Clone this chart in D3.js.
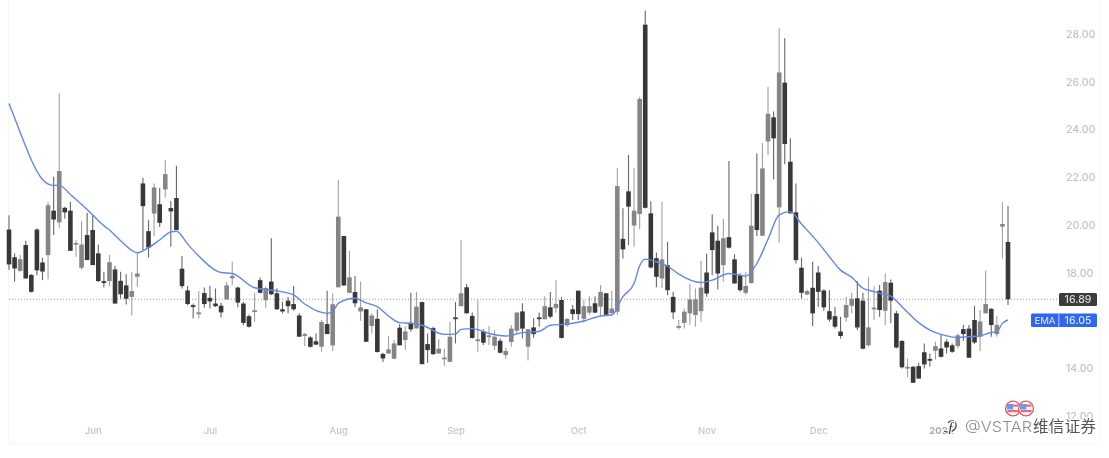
<!DOCTYPE html>
<html><head><meta charset="utf-8">
<script src="https://cdn.jsdelivr.net/npm/d3@7/dist/d3.min.js"></script>
<style>html,body{margin:0;padding:0;background:#fff;overflow:hidden}svg{display:block}</style>
</head><body><svg id="c" width="1109" height="458"></svg>
<script>
const high=[20.41,18.81,18.74,19.34,17.94,19.86,18.63,20.97,22.02,25.51,
20.76,20.97,19.37,20.16,20.51,20.41,19.18,18.04,18.74,18.28,
18.04,17.94,18.04,18.84,21.98,20.2,21.74,21.56,22.72,21.01,
22.48,18.7,17.44,16.71,17.24,17.38,17.44,17.34,16.74,17.61,
18.46,17.41,16.78,16.25,17.17,17.8,17.41,19.44,17.35,16.79,
16.99,17.44,16.3,15.49,15.35,15.46,16.02,17.25,17.14,21.88,
19.54,18.92,17.86,17.62,16.47,16.3,16.47,14.65,15.35,15.18,
15.85,15.77,17.16,17.2,16.79,15.46,15.74,15.21,14.83,15.95,
16.77,19.37,17.53,16.33,16.88,15.63,15.77,15.6,15.25,14.86,
15.81,16.37,16.72,15.63,16.09,16.33,17.02,17.19,17.69,16.99,
16.09,16.65,17.25,16.86,17.02,17.02,17.49,17.14,17.25,22.4,
20.7,22.93,22.4,25.37,28.98,21.0,18.85,20.97,19.3,17.2,
16.02,16.5,17.53,17.34,18.5,18.81,20.44,19.97,20.25,22.68,
18.78,17.97,18.04,21.3,23.0,23.42,25.79,24.75,28.24,27.82,
23.63,21.74,18.64,17.3,18.46,18.28,17.3,17.27,16.57,16.16,
17.0,17.16,17.65,17.16,17.81,17.42,17.49,17.97,17.72,16.41,
15.18,14.41,14.09,14.23,15.04,14.62,15.11,15.39,15.21,15.04,
15.46,15.81,15.81,16.62,16.44,18.09,16.51,16.19,20.95,20.8];
const low=[18.11,17.62,18.04,17.76,17.17,17.9,17.69,17.73,19.58,19.86,
20.27,18.91,18.67,18.14,18.53,18.32,17.62,17.38,17.44,16.71,
16.92,16.67,16.21,17.41,18.95,18.64,19.53,19.92,21.15,19.09,
19.79,17.34,16.64,16.08,16.08,16.53,16.5,16.57,16.13,16.88,
17.48,16.55,15.8,15.71,15.94,17.13,16.53,17.06,16.44,16.3,
16.3,16.41,15.32,14.93,14.87,14.97,14.69,15.43,14.72,17.39,
17.44,17.14,16.55,15.99,15.11,15.46,14.66,14.26,14.6,14.38,
14.96,14.76,15.54,15.66,14.17,14.23,14.55,14.6,14.09,14.26,
15.04,16.6,16.3,15.25,14.69,14.97,14.97,14.76,14.62,14.4,
14.9,15.46,15.25,14.32,15.28,15.74,16.05,16.09,16.33,15.25,
15.74,16.02,16.02,15.91,16.24,16.3,16.16,16.21,16.3,16.23,
18.6,19.16,19.09,19.82,20.69,18.18,17.39,17.36,17.06,16.06,
15.62,15.67,15.81,15.74,15.95,17.0,17.9,17.3,17.62,19.02,
17.55,17.2,17.06,17.55,19.54,19.54,22.93,21.92,19.26,22.54,
20.46,18.39,16.92,17.06,15.77,16.57,16.41,15.95,15.67,15.25,
15.95,16.3,15.6,14.8,14.9,16.02,16.16,15.81,15.88,14.83,
13.99,13.62,13.39,13.55,13.99,14.06,14.37,14.45,14.62,14.65,
14.83,15.15,14.44,15.01,14.72,16.3,15.32,15.32,18.6,16.65];
const open=[19.81,18.65,18.08,19.16,17.91,19.81,18.43,18.74,20.6,20.11,
20.72,20.6,19.18,18.21,19.58,19.79,18.81,17.65,17.65,18.14,
17.66,17.47,16.99,17.83,21.74,19.74,20.48,20.87,21.49,20.71,
21.13,18.17,17.26,16.64,16.29,17.15,16.95,16.71,16.62,16.88,
17.77,17.38,16.71,16.18,16.36,17.69,16.85,17.63,17.14,16.47,
16.83,16.69,16.21,15.39,15.29,15.13,14.9,15.85,14.96,17.39,
19.54,17.16,17.19,16.38,16.47,15.77,16.07,14.6,14.62,14.4,
15.7,15.18,15.91,15.67,16.77,15.01,15.68,14.62,14.41,14.27,
16.13,16.6,17.39,16.19,15.15,15.54,15.35,14.94,15.15,14.55,
15.1,15.57,16.38,14.9,15.71,16.13,16.05,16.55,16.52,16.86,
15.8,16.47,17.25,16.07,16.33,16.72,16.58,17.14,16.3,16.37,
19.42,21.41,19.98,20.46,28.39,20.49,18.61,17.76,18.32,16.99,
15.71,15.9,16.3,16.23,16.39,18.01,19.69,19.34,18.32,19.49,
18.56,17.89,17.16,17.57,21.3,19.55,23.5,24.51,20.74,25.96,
22.65,20.53,18.21,17.09,17.37,18.01,17.26,16.39,16.18,15.54,
16.12,16.62,16.93,16.83,14.96,16.48,17.25,16.41,17.58,16.3,
15.14,13.99,14.06,14.09,14.67,14.39,14.73,14.83,15.11,14.96,
14.93,15.64,15.66,16.02,15.32,16.3,16.49,15.43,19.93,19.29];
const close=[18.35,18.18,18.57,17.76,17.2,18.1,18.05,20.83,20.23,22.26,
20.53,18.92,19.25,19.18,18.53,18.32,17.65,17.57,18.44,16.71,
17.1,16.91,17.23,17.97,20.79,19.05,21.57,20.09,22.13,20.57,
19.79,17.44,16.69,16.57,16.34,16.69,16.8,16.6,16.34,17.47,
17.86,16.75,15.9,15.74,16.43,17.16,17.36,17.1,16.47,16.38,
16.6,16.47,15.32,15.43,14.9,14.99,15.94,15.43,16.68,20.35,
17.47,17.81,16.72,16.55,15.11,16.21,14.68,14.41,14.79,15.04,
14.96,15.54,15.63,16.58,14.17,14.76,14.59,14.82,14.45,15.32,
16.07,17.14,16.3,15.27,15.21,15.07,15.38,15.32,14.65,14.72,
15.66,16.33,15.66,15.63,15.43,16.07,16.6,16.16,16.69,15.27,
16.07,16.27,16.27,16.6,16.6,16.33,17.2,16.24,16.5,21.63,
18.98,20.77,20.6,25.28,20.72,18.22,17.83,18.56,17.27,16.34,
15.77,16.37,16.88,16.88,17.38,17.13,18.95,17.97,19.45,19.05,
17.55,17.27,17.45,19.97,19.79,22.37,24.66,23.63,26.39,23.39,
20.49,18.53,17.16,17.23,16.3,17.2,16.55,16.04,15.74,15.35,
16.65,16.91,15.71,14.82,15.71,16.54,16.44,17.61,16.83,14.87,
14.04,14.06,13.39,13.57,14.16,14.34,14.93,14.48,14.87,14.69,
15.38,15.43,14.44,15.08,15.96,16.69,15.81,15.81,20.04,16.89];
const emaIndex=[0,1,3,4,6,8,9,11,14,17,18,20,23,25,27,29,30,32,34,38,40,44,48,51,53,57,58,59,62,64,66,68,70,72,74,78,80,81,83,86,89,92,95,97,100,103,106,108,110,112,113,114,116,118,120,124,126,129,130,132,134,136,138,140,142,145,147,149,151,153,155,156,158,160,163,165,167,170,172,174,176,177,178,179];
const emaValues=[25.09,24.49,23.29,22.72,21.91,21.66,21.66,21.28,20.65,19.97,19.79,19.34,18.84,19.05,19.37,19.71,19.74,19.2,18.7,18.01,17.97,17.37,17.24,17.07,16.69,16.3,16.37,16.72,16.93,16.74,16.58,16.19,15.91,15.88,15.8,15.42,15.43,15.63,15.66,15.46,15.35,15.49,15.54,15.8,15.85,15.98,16.19,16.23,17.0,17.55,18.29,18.57,18.46,18.28,17.94,17.59,17.69,17.97,17.94,17.86,18.39,19.4,20.42,20.56,20.04,19.26,18.67,18.11,17.81,17.35,17.21,17.14,17.02,16.58,15.91,15.6,15.42,15.29,15.32,15.36,15.5,15.53,15.88,16.02];
const priceTicks=[28,26,24,22,20,18,14,12];
const monthLabels=["Jun","Jul","Aug","Sep","Oct","Nov","Dec","2022","Feb"];
const monthIndex=[15,36,59,80,102,125,145,167,186.5];
const lastPrice=16.89, lastEma=16.05;

const svg=d3.select("#c");
const font="Inter, Roboto, sans-serif";
const x=d3.scaleLinear().domain([0,179]).range([9,1008]);
const y=d3.scaleLinear().domain([28,12]).range([34,416]);
const bodyW=4.6;
const root=svg.append("g").style("filter","blur(0.6px)");

root.append("path").attr("d","M8.5,0V443.5H1100V0").attr("fill","none").attr("stroke","#f6f6f6");

const ya=d3.axisRight(y).tickValues(priceTicks).tickFormat(d3.format(".2f")).tickSize(0).tickPadding(0);
const yG=root.append("g").attr("transform","translate(1066,0)").call(ya);
yG.select(".domain").remove();
yG.selectAll("text").attr("fill","#c2c2c2").style("font",`500 10.5px ${font}`);
const xa=d3.axisBottom(x).tickValues(monthIndex).tickFormat((d,i)=>monthLabels[i]).tickSize(0).tickPadding(0);
const xG=root.append("g").attr("transform","translate(0,427.5)").call(xa);
xG.select(".domain").remove();
xG.selectAll("text").attr("fill","#c6c6c6").style("font",`500 9.5px ${font}`);
xG.selectAll("text").filter((d,i)=>monthLabels[i]==="2022").attr("fill","#aaa").style("font-weight","700");

root.append("line").attr("x1",9).attr("x2",1059).attr("y1",y(lastPrice)).attr("y2",y(lastPrice))
  .attr("stroke","#999").attr("stroke-dasharray","1 2");

const idx=d3.range(close.length);
const col=i=>close[i]>=open[i]?"#858585":"#383838";
const wickCol=i=>close[i]>=open[i]?"#a0a0a0":"#666";
const g=root.append("g");
g.selectAll("line.w").data(idx).join("line").attr("class","w")
  .attr("x1",i=>x(i)).attr("x2",i=>x(i)).attr("y1",i=>y(high[i])).attr("y2",i=>y(low[i]))
  .attr("stroke",wickCol).attr("stroke-width",1.1);
g.selectAll("rect.b").data(idx).join("rect").attr("class","b")
  .attr("x",i=>x(i)-bodyW/2).attr("width",bodyW)
  .attr("y",i=>y(Math.max(open[i],close[i])))
  .attr("height",i=>Math.max(1.8,Math.abs(y(open[i])-y(close[i]))))
  .attr("fill",col);

root.append("path")
  .attr("d",d3.line().x(d=>x(d)).y((d,i)=>y(emaValues[i])).curve(d3.curveMonotoneX)(emaIndex))
  .attr("fill","none").attr("stroke","#5f88e8").attr("stroke-width",1.4);

root.append("rect").attr("x",1059).attr("width",38).attr("y",293).attr("height",13).attr("rx",1.5).attr("fill","#3c3c3c");
root.append("text").attr("x",1078).attr("y",303.4).attr("text-anchor","middle").attr("fill","#dcdcdc").style("font",`500 10.5px ${font}`).text(lastPrice.toFixed(2));
root.append("rect").attr("x",1031).attr("width",66).attr("y",313.5).attr("height",13.5).attr("rx",1.5).attr("fill","#2d66f0");
root.append("line").attr("x1",1058.8).attr("x2",1058.8).attr("y1",313.5).attr("y2",327).attr("stroke","#dbe6ff").attr("stroke-width",.8);
root.append("text").attr("x",1045).attr("y",323.9).attr("text-anchor","middle").attr("fill","#cfdcff").style("font",`500 9.5px ${font}`).text("EMA");
root.append("text").attr("x",1078).attr("y",324.1).attr("text-anchor","middle").attr("fill","#d8e3ff").style("font",`500 10.5px ${font}`).text(lastEma.toFixed(2));

[1013,1026].forEach(cx=>{
  const f=root.append("g").attr("transform",`translate(${cx},408.5)`);
  f.append("circle").attr("r",7.4).attr("fill","#fff").attr("stroke","#ea5a66").attr("stroke-width",1.4);
  f.append("rect").attr("x",-5.5).attr("y",-4).attr("width",11).attr("height",2.2).attr("fill","#ea6a74");
  f.append("rect").attr("x",-5.5).attr("y",1.5).attr("width",11).attr("height",2.2).attr("fill","#ea6a74");
  f.append("rect").attr("x",-6).attr("y",-4.5).attr("width",6.4).attr("height",5.5).attr("fill","#6a9ae6");
});

// watermark
const halo=s=>s.attr("stroke","#fff").attr("stroke-width",2.4).attr("paint-order","stroke").attr("stroke-linejoin","round");
const wm=svg.append("g").style("filter","blur(0.3px)");
wm.append("path").attr("d","M944,431 C950,434 957,430 956,424 C955,420 950,420 948,423")
  .attr("fill","none").attr("stroke","#fff").attr("stroke-width",3.5);
wm.append("path").attr("d","M944,431 C950,434 957,430 956,424 C955,420 950,420 948,423")
  .attr("fill","none").attr("stroke","#444").attr("stroke-width",1.3);
wm.append("text").attr("x",951).attr("y",432).attr("text-anchor","middle").attr("fill","#333")
  .call(halo).style("font",`italic 15px "Liberation Serif", serif`).text("ƒ");
wm.append("text").attr("x",965).attr("y",432).attr("textLength",67).attr("lengthAdjust","spacingAndGlyphs").attr("fill","#8e8e8e")
  .call(halo).style("font",`300 15px Inter, sans-serif`).text("@VSTAR");
wm.append("text").attr("x",1033).attr("y",432).attr("textLength",63).attr("fill","#555")
  .call(halo).style("font",`15.5px "Noto Sans CJK SC", sans-serif`).text("维信证券");
</script></body></html>
